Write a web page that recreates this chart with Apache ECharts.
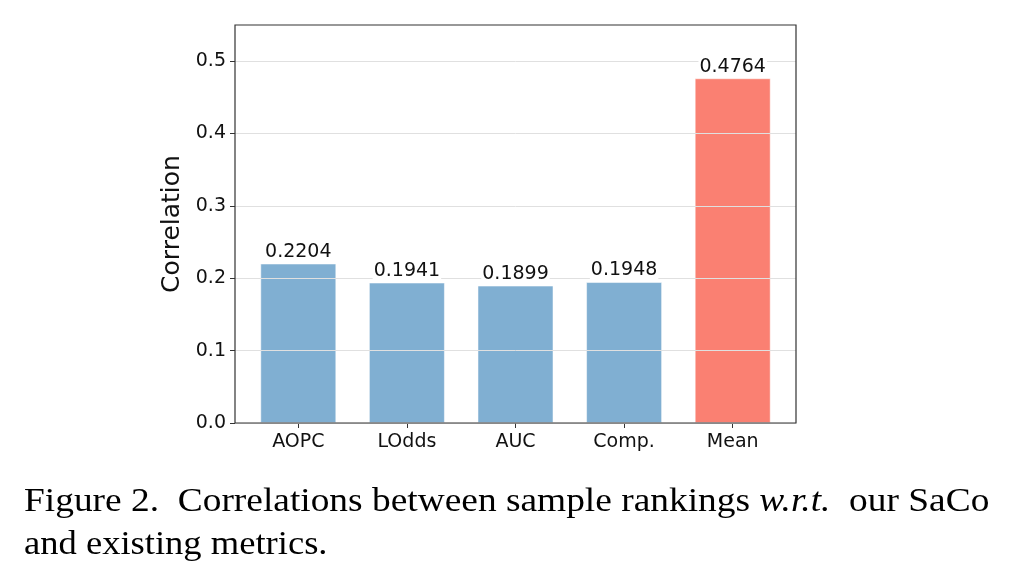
<!DOCTYPE html>
<html><head><meta charset="utf-8">
<script src="https://cdn.jsdelivr.net/npm/echarts@6/dist/echarts.min.js"></script>
<style>html,body{margin:0;padding:0;background:#fff;}#c{width:1016px;height:571px;}</style>
</head><body><div id="c"></div>
<script>
const categories = ['AOPC', 'LOdds', 'AUC', 'Comp.', 'Mean'];
const values = [0.2204, 0.1941, 0.1899, 0.1948, 0.4764];
const yTicks = [0, 0.1, 0.2, 0.3, 0.4, 0.5];
const barColors = ['#80AFD2', '#80AFD2', '#80AFD2', '#80AFD2', '#FA8072'];

const chart = echarts.init(document.getElementById('c'), null, {renderer: 'canvas'});
const font = 'DejaVu Sans';
const TOP = 25, BOTTOM = 148;
chart.setOption({
  animation: false,
  backgroundColor: '#fff',
  grid: [
    {left: 235, right: 220, top: TOP, bottom: BOTTOM, show: true, borderColor: '#333', borderWidth: 1.2, backgroundColor: 'transparent', z: 4},
    {left: 244, right: 229, top: TOP, bottom: BOTTOM}
  ],
  xAxis: [
    {type: 'value', gridIndex: 0, min: 0, max: 1, show: false},
    {type: 'category', gridIndex: 1, data: categories,
     axisLine: {show: false},
     axisTick: {show: true, inside: false, length: 5, alignWithLabel: true, lineStyle: {color: '#333', width: 1}},
     axisLabel: {fontFamily: font, fontSize: 19, color: '#111', margin: 10}}
  ],
  yAxis: [
    {type: 'value', gridIndex: 0, min: 0, max: 0.55, interval: 0.1, z: 3,
     name: 'Correlation', nameLocation: 'middle', nameGap: 49,
     nameTextStyle: {fontFamily: font, fontSize: 25, color: '#111'},
     axisLine: {show: false},
     axisTick: {show: true, inside: false, length: 5, customValues: yTicks, lineStyle: {color: '#333', width: 1}},
     axisLabel: {fontFamily: font, fontSize: 19, color: '#111', margin: 9, customValues: yTicks,
                 formatter: v => v.toFixed(1)},
     splitLine: {show: true, lineStyle: {color: '#e0e0e0', width: 1}}},
    {type: 'value', gridIndex: 1, min: 0, max: 0.55, show: false}
  ],
  series: [{
    type: 'bar', xAxisIndex: 1, yAxisIndex: 1, barWidth: '70%', barGap: '-100%',
    data: values.map((v, i) => ({value: v, itemStyle: {color: barColors[i]}})),
    itemStyle: {borderColor: 'rgba(255,255,255,0.5)', borderWidth: 1},
    z: 2
  }, {
    type: 'bar', xAxisIndex: 1, yAxisIndex: 1, barWidth: '70%', barGap: '-100%',
    data: values,
    itemStyle: {color: 'rgba(0,0,0,0)'},
    label: {show: true, position: 'top', distance: 2, fontFamily: font, fontSize: 19, color: '#111',
            backgroundColor: '#fff', padding: [0, 1, 0, 1],
            formatter: p => p.value.toFixed(4)},
    z: 6
  }],
  graphic: [
    {type: 'text', left: 24, top: 485, scaleX: 1.10, originX: 0, style: {
      text: '{n|Figure 2.  Correlations between sample rankings }{i|w.r.t.}{n|  our SaCo}',
      rich: {n: {fontFamily: 'Liberation Serif', fontSize: 34, fill: '#000'},
             i: {fontFamily: 'Liberation Serif', fontSize: 34, fontStyle: 'italic', fill: '#000'}}
    }},
    {type: 'text', left: 24, top: 528, scaleX: 1.075, originX: 0, style: {
      text: 'and existing metrics.', fontFamily: 'Liberation Serif', fontSize: 34, fill: '#000'
    }}
  ]
});
</script></body></html>
